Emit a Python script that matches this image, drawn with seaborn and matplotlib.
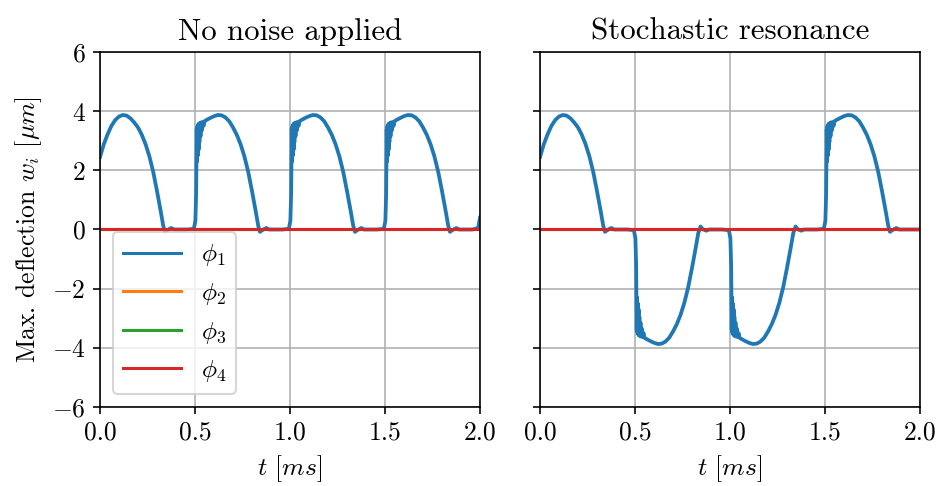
import matplotlib
matplotlib.use("Agg")
import matplotlib.pyplot as plt
import numpy as np
import pandas as pd
import seaborn as sns

# --- time axis in ms and deflection of mode phi_1 in um -----------------
t_quiet = [
    0.000, 0.020, 0.040, 0.060, 0.080, 0.100, 0.120, 0.140, 0.160, 0.180,
    0.200, 0.220, 0.240, 0.260, 0.280, 0.300, 0.310, 0.320, 0.333, 0.342,
    0.350, 0.360, 0.375, 0.390, 0.420, 0.460, 0.490,
    0.495, 0.502, 0.506, 0.509, 0.511, 0.513, 0.515, 0.517, 0.519, 0.521,
    0.523, 0.526, 0.529, 0.532, 0.536, 0.540, 0.545, 0.550, 0.560, 0.580,
    0.600, 0.620, 0.640, 0.660, 0.680, 0.700, 0.720, 0.740, 0.760, 0.780,
    0.800, 0.810, 0.820, 0.833, 0.842, 0.850, 0.860, 0.875, 0.890, 0.920,
    0.960, 0.990,
    0.995, 1.002, 1.006, 1.009, 1.011, 1.013, 1.015, 1.017, 1.019, 1.021,
    1.023, 1.026, 1.029, 1.032, 1.036, 1.040, 1.045, 1.050, 1.060, 1.080,
    1.100, 1.120, 1.140, 1.160, 1.180, 1.200, 1.220, 1.240, 1.260, 1.280,
    1.300, 1.310, 1.320, 1.333, 1.342, 1.350, 1.360, 1.375, 1.390, 1.420,
    1.460, 1.490,
    1.495, 1.502, 1.506, 1.509, 1.511, 1.513, 1.515, 1.517, 1.519, 1.521,
    1.523, 1.526, 1.529, 1.532, 1.536, 1.540, 1.545, 1.550, 1.560, 1.580,
    1.600, 1.620, 1.640, 1.660, 1.680, 1.700, 1.720, 1.740, 1.760, 1.780,
    1.800, 1.810, 1.820, 1.833, 1.842, 1.850, 1.860, 1.875, 1.890, 1.920,
    1.960, 1.990, 2.000,
]
w1_quiet = [
    2.45, 2.88, 3.22, 3.50, 3.70, 3.82, 3.87, 3.85, 3.76, 3.62,
    3.45, 3.20, 2.88, 2.47, 1.95, 1.30, 0.95, 0.60, 0.12, -0.08,
    -0.04, 0.00, 0.05, 0.00, 0.00, 0.00, 0.02,
    0.05, 0.30, 1.20, 3.40, 2.30, 3.50, 2.50, 3.55, 2.70, 3.58,
    2.95, 3.60, 3.15, 3.62, 3.35, 3.63, 3.50, 3.66, 3.70, 3.77,
    3.83, 3.87, 3.86, 3.79, 3.66, 3.45, 3.20, 2.88, 2.47, 1.95,
    1.30, 0.95, 0.60, 0.12, -0.08, -0.04, 0.00, 0.05, 0.00, 0.00,
    0.00, 0.02,
    0.05, 0.30, 1.20, 3.40, 2.30, 3.50, 2.50, 3.55, 2.70, 3.58,
    2.95, 3.60, 3.15, 3.62, 3.35, 3.63, 3.50, 3.66, 3.70, 3.77,
    3.83, 3.87, 3.86, 3.79, 3.66, 3.45, 3.20, 2.88, 2.47, 1.95,
    1.30, 0.95, 0.60, 0.12, -0.08, -0.04, 0.00, 0.05, 0.00, 0.00,
    0.00, 0.02,
    0.05, 0.30, 1.20, 3.40, 2.30, 3.50, 2.50, 3.55, 2.70, 3.58,
    2.95, 3.60, 3.15, 3.62, 3.35, 3.63, 3.50, 3.66, 3.70, 3.77,
    3.83, 3.87, 3.86, 3.79, 3.66, 3.45, 3.20, 2.88, 2.47, 1.95,
    1.30, 0.95, 0.60, 0.12, -0.08, -0.04, 0.00, 0.05, 0.00, 0.00,
    0.00, 0.05, 0.40,
]

t_noise = [
    0.000, 0.020, 0.040, 0.060, 0.080, 0.100, 0.120, 0.140, 0.160, 0.180,
    0.200, 0.220, 0.240, 0.260, 0.280, 0.300, 0.310, 0.320, 0.333, 0.342,
    0.350, 0.360, 0.375, 0.390, 0.420, 0.460, 0.490,
    0.495, 0.502, 0.506, 0.509, 0.511, 0.513, 0.515, 0.517, 0.519, 0.521,
    0.523, 0.526, 0.529, 0.532, 0.536, 0.540, 0.545, 0.550, 0.560, 0.580,
    0.600, 0.620, 0.640, 0.660, 0.680, 0.700, 0.720, 0.740, 0.760, 0.780,
    0.800, 0.810, 0.820, 0.833, 0.845, 0.852, 0.860, 0.875, 0.890, 0.920,
    0.960, 0.990,
    0.995, 1.002, 1.006, 1.009, 1.011, 1.013, 1.015, 1.017, 1.019, 1.021,
    1.023, 1.026, 1.029, 1.032, 1.036, 1.040, 1.045, 1.050, 1.060, 1.080,
    1.100, 1.120, 1.140, 1.160, 1.180, 1.200, 1.220, 1.240, 1.260, 1.280,
    1.300, 1.310, 1.320, 1.333, 1.345, 1.352, 1.360, 1.375, 1.390, 1.420,
    1.460, 1.490,
    1.495, 1.502, 1.506, 1.509, 1.511, 1.513, 1.515, 1.517, 1.519, 1.521,
    1.523, 1.526, 1.529, 1.532, 1.536, 1.540, 1.545, 1.550, 1.560, 1.580,
    1.600, 1.620, 1.640, 1.660, 1.680, 1.700, 1.720, 1.740, 1.760, 1.780,
    1.800, 1.810, 1.820, 1.833, 1.842, 1.850, 1.860, 1.875, 1.890, 1.920,
    1.960, 2.000,
]
w1_noise = [
    2.45, 2.88, 3.22, 3.50, 3.70, 3.82, 3.87, 3.85, 3.76, 3.62,
    3.45, 3.20, 2.88, 2.47, 1.95, 1.30, 0.95, 0.60, 0.12, -0.08,
    -0.04, 0.00, 0.05, 0.00, 0.00, 0.00, -0.02,
    -0.05, -0.30, -1.20, -3.40, -2.30, -3.50, -2.50, -3.55, -2.70, -3.58,
    -2.95, -3.60, -3.15, -3.62, -3.35, -3.63, -3.50, -3.66, -3.70, -3.77,
    -3.83, -3.87, -3.86, -3.79, -3.66, -3.45, -3.20, -2.88, -2.47, -1.95,
    -1.30, -0.95, -0.60, -0.12, 0.10, 0.04, 0.00, -0.04, 0.00, 0.00,
    0.00, -0.02,
    -0.05, -0.30, -1.20, -3.40, -2.30, -3.50, -2.50, -3.55, -2.70, -3.58,
    -2.95, -3.60, -3.15, -3.62, -3.35, -3.63, -3.50, -3.66, -3.70, -3.77,
    -3.83, -3.87, -3.86, -3.79, -3.66, -3.45, -3.20, -2.88, -2.47, -1.95,
    -1.30, -0.95, -0.60, -0.12, 0.10, 0.04, 0.00, -0.04, 0.00, 0.00,
    0.00, 0.02,
    0.05, 0.30, 1.20, 3.40, 2.30, 3.50, 2.50, 3.55, 2.70, 3.58,
    2.95, 3.60, 3.15, 3.62, 3.35, 3.63, 3.50, 3.66, 3.70, 3.77,
    3.83, 3.87, 3.86, 3.79, 3.66, 3.45, 3.20, 2.88, 2.47, 1.95,
    1.30, 0.95, 0.60, 0.12, -0.08, -0.04, 0.00, 0.05, 0.00, 0.00,
    0.00, 0.00,
]

# higher modes stay at rest over the whole window
t_rest = [0.0, 2.0]
w_rest = [0.0, 0.0]

mode_labels = [r"$\phi_1$", r"$\phi_2$", r"$\phi_3$", r"$\phi_4$"]
mode_colors = ["#1f77b4", "#ff7f0e", "#2ca02c", "#d62728"]
panel_titles = ["No noise applied", "Stochastic resonance"]
x_ticks = [0.0, 0.5, 1.0, 1.5, 2.0]
y_ticks = [-6, -4, -2, 0, 2, 4, 6]


def long_frame(t1, w1):
    parts = [pd.DataFrame({"t": t1, "w": w1, "mode": mode_labels[0]})]
    for lab in mode_labels[1:]:
        parts.append(pd.DataFrame({"t": t_rest, "w": w_rest, "mode": lab}))
    return pd.concat(parts, ignore_index=True)


plt.rcParams.update({
    "font.family": ["cmr10"],
    "mathtext.fontset": "cm",
    "axes.formatter.use_mathtext": True,
    "font.size": 12.6,
    "axes.titlesize": 15.2,
})

fig = plt.figure(figsize=(6.4, 3.316), dpi=146.5625)
ax_l = fig.add_axes([100 / 938, 79 / 486, 380 / 938, 355 / 486])
ax_r = fig.add_axes([540 / 938, 79 / 486, 380 / 938, 355 / 486], sharey=ax_l)

frames = [long_frame(t_quiet, w1_quiet), long_frame(t_noise, w1_noise)]
for i, (ax, df) in enumerate(zip([ax_l, ax_r], frames)):
    sns.lineplot(data=df, x="t", y="w", hue="mode", hue_order=mode_labels,
                 palette=mode_colors, estimator=None, sort=False,
                 linewidth=1.5, ax=ax, legend=(i == 0))
    # the driven mode is drawn slightly heavier
    ax.lines[0].set_linewidth(1.85)
    ax.set_xlim(0, 2)
    ax.set_ylim(-6, 6)
    ax.set_xticks(x_ticks)
    ax.set_xticklabels([f"{v:.1f}" for v in x_ticks])
    ax.set_yticks(y_ticks)
    ax.grid(True, color="#b0b0b0", linewidth=0.8)
    ax.set_title(panel_titles[i])
    ax.set_xlabel(r"$t$ [$ms$]")
    ax.set_ylabel("")

ax_l.set_ylabel(r"Max. deflection $w_i$ [$\mu m$]")
ax_r.tick_params(labelleft=False)

leg = ax_l.legend(loc="lower left", fontsize=12.4, handlelength=2.3,
                  labelspacing=0.5)
leg.set_title(None)

fig.savefig("out.png", dpi=146.5625)
